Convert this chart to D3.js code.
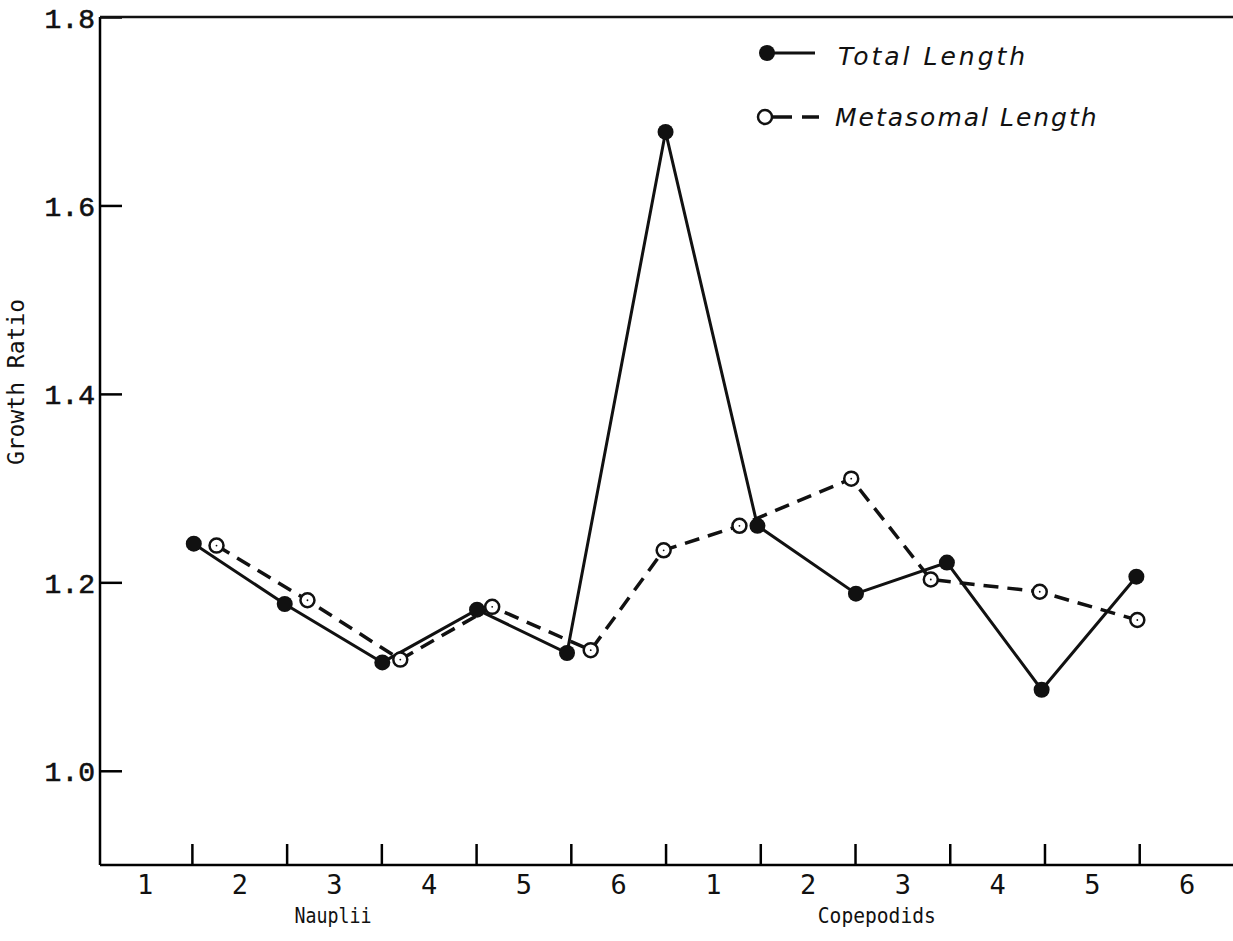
<!DOCTYPE html>
<html>
<head>
<meta charset="utf-8">
<script src="https://cdn.jsdelivr.net/npm/d3@7"></script>
<style>
  body { margin: 0; background: #fff; }
  svg text { fill: #111; }
</style>
</head>
<body>
<div id="plot"></div>
<script>
// stage labels (nauplii 1-6, copepodids 1-6)
const stages = ["1", "2", "3", "4", "5", "6", "1", "2", "3", "4", "5", "6"];
const stageTicks = [1.5, 2.5, 3.5, 4.5, 5.5, 6.5, 7.5, 8.5, 9.5, 10.5, 11.5];
const yTicks = [1.0, 1.2, 1.4, 1.6, 1.8];

// Total Length (filled)
const totalX = [1.52, 2.48, 3.51, 4.51, 5.46, 6.5, 7.47, 8.51, 9.47, 10.47, 11.47];
const totalLength = [1.241, 1.177, 1.115, 1.171, 1.125, 1.678, 1.260, 1.188, 1.221, 1.086, 1.206];

// Metasomal Length (open)
const metaX = [1.76, 2.72, 3.70, 4.67, 5.71, 6.48, 7.28, 8.46, 9.30, 10.45, 11.48];
const metasomalLength = [1.239, 1.181, 1.118, 1.174, 1.128, 1.234, 1.260, 1.310, 1.203, 1.190, 1.160];

const W = 1233, H = 941;
const margin = { top: 17, right: 0, bottom: 76, left: 100 };
const width = W - margin.left - margin.right;
const height = H - margin.top - margin.bottom;

const svg = d3.select("#plot").append("svg")
  .attr("width", W)
  .attr("height", H);

const g = svg.append("g")
  .attr("transform", "translate(" + margin.left + "," + margin.top + ")");

const x = d3.scaleLinear().domain([0.53, 12.49]).range([0, width]);
const y = d3.scaleLinear().domain([0.9, 1.8]).range([height, 0]);

const mono = "'DejaVu Sans Mono', monospace";
const typew = "'Liberation Mono', 'Courier New', monospace";

// y axis, ticks pointing inward
const yAxis = g.append("g")
  .call(d3.axisLeft(y).tickValues(yTicks).tickFormat(d3.format(".1f"))
    .tickSize(-22).tickPadding(5));
yAxis.select(".domain").attr("d", "M0,0V" + height).attr("stroke-width", 2.5);
yAxis.selectAll(".tick line").attr("stroke-width", 2.5);
yAxis.selectAll(".tick text")
  .attr("font-family", typew)
  .attr("font-size", 28)
  .attr("stroke", "#111").attr("stroke-width", 0.6)
  .attr("dy", "0.36em");

// top frame line
g.append("line")
  .attr("x1", 0).attr("x2", width)
  .attr("y1", 0).attr("y2", 0)
  .attr("stroke", "#111").attr("stroke-width", 2.5);

// x axis: boundary ticks pointing up
const xAxis = g.append("g")
  .attr("transform", "translate(0," + height + ")")
  .call(d3.axisBottom(x).tickValues(stageTicks).tickFormat("").tickSize(-21));
xAxis.select(".domain").attr("d", "M0,0H" + width).attr("stroke-width", 2.5);
xAxis.selectAll(".tick line").attr("stroke-width", 2.5);

// stage labels at band centres
const xLabels = g.append("g")
  .attr("transform", "translate(0," + height + ")")
  .call(d3.axisBottom(x).tickValues(d3.range(1, 13)).tickFormat((d, i) => stages[i])
    .tickSize(0).tickPadding(10));
xLabels.select(".domain").remove();
xLabels.selectAll(".tick text")
  .attr("font-family", mono)
  .attr("font-size", 27);

// group names, squeezed like the condensed typeface of the original
g.append("text")
  .attr("x", x(2.99) - 38.5).attr("y", height + 58)
  .attr("font-family", mono).attr("font-size", 22)
  .attr("textLength", 77).attr("lengthAdjust", "spacingAndGlyphs")
  .text("Nauplii");

g.append("text")
  .attr("x", x(8.73) - 59).attr("y", height + 58)
  .attr("font-family", mono).attr("font-size", 22)
  .attr("textLength", 118).attr("lengthAdjust", "spacingAndGlyphs")
  .text("Copepodids");

// y label
svg.append("text")
  .attr("transform", "translate(24,382) rotate(-90)")
  .attr("text-anchor", "middle")
  .attr("font-family", mono).attr("font-size", 23)
  .text("Growth Ratio");

// lines
const totalData = totalX.map((d, i) => ({ x: d, v: totalLength[i] }));
const metaData = metaX.map((d, i) => ({ x: d, v: metasomalLength[i] }));

const line = d3.line().x(d => x(d.x)).y(d => y(d.v));

g.append("path")
  .datum(metaData)
  .attr("fill", "none")
  .attr("stroke", "#111")
  .attr("stroke-width", 3.5)
  .attr("stroke-dasharray", "15,9")
  .attr("d", line);

g.append("path")
  .datum(totalData)
  .attr("fill", "none")
  .attr("stroke", "#111")
  .attr("stroke-width", 3)
  .attr("d", line);

g.selectAll(".open")
  .data(metaData)
  .join("circle")
  .attr("class", "open")
  .attr("cx", d => x(d.x)).attr("cy", d => y(d.v))
  .attr("r", 7)
  .attr("fill", "#fff")
  .attr("stroke", "#111")
  .attr("stroke-width", 2.5);

g.selectAll(".opendot")
  .data(metaData)
  .join("circle")
  .attr("class", "opendot")
  .attr("cx", d => x(d.x)).attr("cy", d => y(d.v))
  .attr("r", 0.9)
  .attr("fill", "#111");

g.selectAll(".filled")
  .data(totalData)
  .join("circle")
  .attr("class", "filled")
  .attr("cx", d => x(d.x)).attr("cy", d => y(d.v))
  .attr("r", 8)
  .attr("fill", "#111");

// legend
const legend = svg.append("g");
legend.append("line")
  .attr("x1", 767).attr("x2", 815).attr("y1", 53).attr("y2", 53)
  .attr("stroke", "#111").attr("stroke-width", 3);
legend.append("circle")
  .attr("cx", 767).attr("cy", 53).attr("r", 8).attr("fill", "#111");
legend.append("text")
  .attr("x", 838).attr("y", 65)
  .attr("font-family", "'DejaVu Sans', sans-serif")
  .attr("font-style", "italic")
  .attr("font-size", 25)
  .attr("letter-spacing", 3)
  .text("Total Length");

legend.append("line")
  .attr("x1", 771).attr("x2", 819).attr("y1", 117).attr("y2", 117)
  .attr("stroke", "#111").attr("stroke-width", 3.5)
  .attr("stroke-dasharray", "21,10,17");
legend.append("circle")
  .attr("cx", 765).attr("cy", 117).attr("r", 7)
  .attr("fill", "#fff").attr("stroke", "#111").attr("stroke-width", 2.5);
legend.append("text")
  .attr("x", 835).attr("y", 126)
  .attr("font-family", "'DejaVu Sans', sans-serif")
  .attr("font-style", "italic")
  .attr("font-size", 25)
  .attr("letter-spacing", 2)
  .text("Metasomal Length");
</script>
</body>
</html>
